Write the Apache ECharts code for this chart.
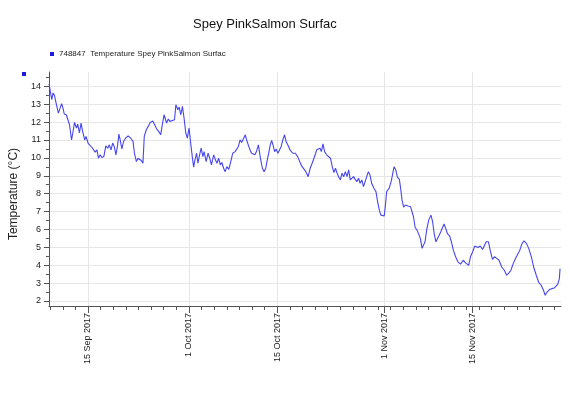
<!DOCTYPE html>
<html><head><meta charset="utf-8">
<script src="https://cdn.jsdelivr.net/npm/echarts@6/dist/echarts.min.js"></script>
<style>html,body{margin:0;padding:0;background:#fff}#c{width:570px;height:397px}</style>
</head><body><div id="c"></div>
<script>
const chartTitle = 'Spey PinkSalmon Surfac';
const seriesName = '748847  Temperature Spey PinkSalmon Surfac';
const yAxisName = 'Temperature (°C)';
// x values: days since 15 Sep 2017 00:00
const dayOffsets = [
-6.17,-5.75,-5.54,-5.32,-5.12,-4.70,-4.49,-4.18,-3.98,-3.76,-3.44,-3.13,-2.93,-2.61,-2.41,-2.14,-1.83,-1.63,-1.36,-1.10,-0.85,-0.53,-0.31,
0,0.25,0.63,0.94,1.14,1.41,1.66,1.93,2.19,2.51,2.82,3.13,3.38,3.65,3.91,4.16,4.43,4.70,4.90,5.10,5.37,5.64,5.95,6.36,6.78,7.14,
7.36,7.67,7.92,8.19,8.45,8.71,8.92,9.24,9.55,9.86,10.27,10.58,10.90,11.21,11.52,11.74,12.06,12.26,12.46,12.73,13.00,13.40,13.72,
13.93,14.25,14.45,14.72,14.97,15.23,15.50,15.75,16.02,16.28,16.53,16.75,16.96,17.22,17.43,17.69,17.94,18.21,18.41,18.73,19.04,19.30,19.57,
19.93,20.20,20.45,20.71,20.98,21.23,21.50,21.76,22.01,22.33,22.64,22.95,23.33,23.58,23.85,24.11,24.36,24.63,24.94,25.15,25.41,25.68,25.93,
26.19,26.46,26.71,27.02,27.34,27.65,27.92,28.18,28.43,28.70,28.90,29.12,29.33,29.59,29.84,30.11,30.37,30.63,30.89,31.16,31.41,31.67,32.03,32.46,32.88,
33.24,33.51,33.87,34.18,34.54,34.91,35.23,35.59,35.85,36.10,36.26,36.53,36.79,37.00,37.26,37.51,37.83,38.14,38.45,38.72,38.99,39.24,39.50,39.77,
40.02,40.28,40.55,40.80,41.07,41.33,41.58,41.85,42.11,42.37,42.63,42.90,43.15,43.42,43.68,43.93,44.20,44.46,44.71,44.98,45.34,45.66,45.92,46.19,46.44,46.71,
46.97,47.15,47.35,47.75,48.06,48.28,48.53,48.80,49.06,49.37,49.57,49.79,50.04,50.31,50.73,51.14,51.40,51.61,51.87,52.18,52.45,52.70,52.97,53.17,53.44,53.70,
54.02,54.38,54.64,54.89,55.16,55.43,55.68,55.94,56.21,56.46,56.72,56.99,57.35,57.62,57.93,58.29,58.65,59.07,59.50,
59.86,60.37,60.64,61.00,61.31,61.58,61.84,62.20,62.56,62.88,63.14,63.50,63.77,64.13,64.44,64.82,65.18,65.60,66.01,66.39,66.75,67.06,67.42,67.79,
68.11,68.47,68.83,69.14,69.52,69.88,70.30,70.66,71.08,71.44,71.86,72.22,72.49,72.80,73.16,73.52,73.95,74.26,74.47,74.74,74.85
];
const temps = [
14.13,13.25,13.63,13.5,13.16,12.5,12.56,13.03,12.79,12.45,12.41,12.32,11.85,11.0,11.39,11.98,11.67,11.89,11.39,11.95,11.48,11.0,11.2,
10.83,10.92,10.58,10.64,10.32,10.45,9.98,10.17,10.02,10.07,10.67,10.54,10.73,10.45,10.83,10.64,10.17,10.73,11.33,11.0,10.5,10.92,11.1,11.23,11.1,10.92,
10.26,9.79,9.98,10.07,9.85,9.7,11.2,11.57,11.76,11.98,12.06,11.95,11.61,11.48,11.29,11.76,12.41,12.36,11.95,12.17,12.04,12.09,12.13,
12.97,12.69,12.84,12.41,12.88,12.23,11.39,11.1,11.67,10.83,10.07,9.48,9.89,10.26,9.7,10.17,10.54,10.07,10.35,9.79,10.26,9.98,9.61,
10.17,9.89,9.70,9.98,9.61,9.74,9.42,9.23,9.51,9.36,9.79,10.26,10.35,10.30,10.64,11.01,10.86,11.05,11.29,11.01,10.73,10.45,10.26,
10.35,10.17,10.35,10.73,9.98,9.42,9.23,9.42,9.89,10.35,10.73,10.97,10.73,10.35,10.49,10.26,10.35,10.64,11.01,11.29,10.92,10.73,10.45,10.26,10.26,
10.07,10.04,9.55,9.55,9.23,8.95,9.42,9.74,9.79,10.26,10.45,10.35,10.54,10.35,10.78,10.35,10.17,10.26,9.98,9.51,9.18,9.42,9.14,8.92,
8.77,9.14,8.95,9.23,8.95,9.33,8.77,8.67,8.95,8.80,8.67,8.86,8.58,8.77,8.39,8.30,8.95,9.23,9.05,8.58,8.30,8.11,7.55,7.08,6.80,6.71,
6.75,7.3,8.11,8.30,8.67,9.05,9.51,9.33,8.92,8.80,8.30,7.65,7.24,7.36,7.31,7.27,7.18,6.71,6.11,5.96,6.06,5.50,4.94,4.84,5.31,5.96,
6.52,6.80,6.43,5.77,5.31,5.40,5.68,5.87,5.96,6.30,6.06,5.77,5.63,5.31,4.84,4.47,4.19,4.06,4.28,
4.13,4.0,4.47,4.75,5.07,5.18,4.99,5.07,4.88,5.12,5.31,5.31,4.84,4.32,4.47,4.38,4.28,3.90,3.72,3.44,3.57,3.72,4.09,4.38,
4.60,4.84,5.22,5.36,5.22,4.94,4.47,3.90,3.44,3.06,2.88,2.60,2.32,2.50,2.64,2.69,2.73,2.78,2.93,3.25,3.81
];
const xTickDays = [0, 16, 30, 47, 61];
const xTickLabels = ['15 Sep 2017', '1 Oct 2017', '15 Oct 2017', '1 Nov 2017', '15 Nov 2017'];
const yTickValues = [2, 3, 4, 5, 6, 7, 8, 9, 10, 11, 12, 13, 14];

const X_MIN = -6.2, X_MAX = 75, Y_MIN = 1.72, Y_MAX = 14.8;
const xMinor = []; for (let d = -6; d <= 74; d += 2) xMinor.push(d);
const yMinor = []; for (let v = 2; v <= 14.5; v += 0.5) yMinor.push(v);

const chart = echarts.init(document.getElementById('c'), null, {renderer: 'canvas'});
const axisColor = '#555';
const gridColor = '#e6e6e6';
chart.setOption({
  animation: false,
  backgroundColor: '#fff',
  textStyle: {fontFamily: 'Liberation Sans, Arial, sans-serif'},
  title: {
    text: chartTitle, left: 188, top: 13,
    textStyle: {fontSize: 13, fontWeight: 'normal', color: '#111'}
  },
  legend: {
    data: [seriesName], left: 45, top: 45, icon: 'rect', itemWidth: 4, itemHeight: 4,
    textStyle: {fontSize: 8, color: '#222'}
  },
  graphic: [{type: 'rect', left: 22, top: 72, shape: {width: 4, height: 4}, style: {fill: '#1a1ae0'}}],
  grid: {left: 43, right: 9, top: 72, bottom: 91, containLabel: false},
  xAxis: [{
    type: 'value', min: X_MIN, max: X_MAX,
    axisLine: {onZero: false, lineStyle: {color: axisColor}},
    axisTick: {customValues: xTickDays, length: 7, lineStyle: {color: axisColor}},
    axisLabel: {
      customValues: xTickDays, rotate: 90, fontSize: 9, color: '#222', margin: 7,
      formatter: v => { const i = xTickDays.indexOf(Math.round(v)); return i >= 0 ? xTickLabels[i] : ''; }
    },
    splitLine: {show: true, lineStyle: {color: gridColor, width: 1}}
  }, {
    type: 'value', min: X_MIN, max: X_MAX, position: 'bottom', gridIndex: 0,
    axisLine: {show: false, onZero: false},
    axisTick: {customValues: xMinor, length: 4, lineStyle: {color: axisColor}},
    axisLabel: {show: false}, splitLine: {show: false}
  }],
  yAxis: [{
    type: 'value', min: Y_MIN, max: Y_MAX,
    name: yAxisName, nameLocation: 'middle', nameGap: 19,
    nameTextStyle: {fontSize: 12, color: '#222', padding: [0, 10, 0, 0]},
    axisLine: {show: true, onZero: false, lineStyle: {color: axisColor}},
    axisTick: {show: true, customValues: yTickValues, length: 5, lineStyle: {color: axisColor}},
    axisLabel: {customValues: yTickValues, fontSize: 9, color: '#222', margin: 8},
    splitLine: {show: true, lineStyle: {color: gridColor, width: 1}}
  }, {
    type: 'value', min: Y_MIN, max: Y_MAX, position: 'left', gridIndex: 0,
    axisLine: {show: false, onZero: false},
    axisTick: {show: true, customValues: yMinor, length: 3, lineStyle: {color: axisColor}},
    axisLabel: {show: false}, splitLine: {show: false}
  }],
  series: [{
    name: seriesName, type: 'line', xAxisIndex: 0, yAxisIndex: 0,
    data: dayOffsets.map((d, i) => [d, temps[i]]),
    showSymbol: false, symbol: 'none', smooth: false,
    itemStyle: {color: '#1a1ae0'},
    lineStyle: {color: '#4646ee', width: 1.1}
  }]
});
</script></body></html>
